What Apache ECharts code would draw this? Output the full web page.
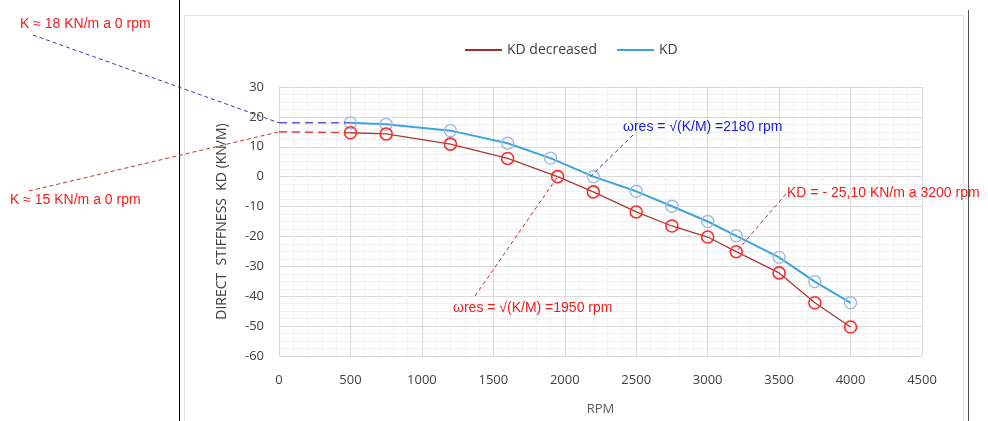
<!DOCTYPE html>
<html>
<head>
<meta charset="utf-8">
<script src="https://cdn.jsdelivr.net/npm/echarts@6/dist/echarts.min.js"></script>
<style>
  html, body { margin: 0; padding: 0; background: #fff; }
  #chart { width: 988px; height: 421px; }
</style>
</head>
<body>
<div id="chart"></div>
<script>
// values
var rpmKD = [500, 750, 1200, 1600, 1900, 2200, 2500, 2750, 3000, 3200, 3500, 3750, 4000];
var valKD = [18, 17.5, 15.4, 11.2, 6.2, 0, -4.9, -9.9, -15, -19.8, -27, -35.1, -42.2];
var rpmDec = [500, 750, 1200, 1600, 1950, 2200, 2500, 2750, 3000, 3200, 3500, 3750, 4000];
var valDec = [14.7, 14.3, 10.9, 6.1, 0, -5.1, -11.8, -16.5, -20.2, -25.1, -32.2, -42.2, -50.3];
var k0KD = 18, k0Dec = 15;
var xTicks = [0, 4500, 500];
var yTicks = [-60, 30, 10];

var font = 'Liberation Sans, Arial, sans-serif';
var xlFont = 'Open Sans, Liberation Sans, sans-serif';

function pairs(xs, ys) {
    return xs.map(function (x, i) { return [x, ys[i]]; });
}

var chart = echarts.init(document.getElementById('chart'));

var option = {
    animation: false,
    backgroundColor: '#fff',
    grid: { left: 279, right: 66, top: 87, bottom: 63 },
    legend: {
        top: 38,
        left: 460,
        icon: 'rect',
        itemWidth: 37,
        itemHeight: 2,
        itemGap: 20,
        textStyle: { fontFamily: xlFont, fontSize: 14, color: '#404040' },
        data: [
            { name: 'KD decreased', itemStyle: { color: '#a52a2a', borderColor: '#a52a2a', borderWidth: 0 } },
            { name: 'KD', itemStyle: { color: '#3fa3dc', borderColor: '#3fa3dc', borderWidth: 0 } }
        ]
    },
    xAxis: {
        type: 'value',
        min: xTicks[0], max: xTicks[1], interval: xTicks[2],
        name: 'RPM', nameLocation: 'middle', nameGap: 47,
        nameTextStyle: { fontFamily: xlFont, fontSize: 13, color: '#595959' },
        axisLine: { show: false },
        axisTick: { show: false },
        axisLabel: {
            margin: 18, fontFamily: xlFont, fontSize: 13, color: '#404040',
            formatter: function (v) { return String(v); }
        },
        splitLine: { lineStyle: { color: '#d9d9d9', width: 1 } },
        minorTick: { show: false, splitNumber: 5 },
        minorSplitLine: { show: true, lineStyle: { color: '#f0f0f0' } }
    },
    yAxis: {
        type: 'value',
        min: yTicks[0], max: yTicks[1], interval: yTicks[2],
        name: 'DIRECT  STIFFNESS  KD (KN/M)', nameLocation: 'middle', nameGap: 50,
        nameTextStyle: { fontFamily: xlFont, fontSize: 14, color: '#404040' },
        axisLine: { show: false },
        axisTick: { show: false },
        axisLabel: { margin: 15, fontFamily: xlFont, fontSize: 13, color: '#404040' },
        splitLine: { lineStyle: { color: '#d9d9d9', width: 1 } },
        minorTick: { show: false, splitNumber: 4 },
        minorSplitLine: { show: true, lineStyle: { color: '#f0f0f0' } }
    },
    series: [
        {
            name: 'KD decreased',
            type: 'line',
            data: pairs(rpmDec, valDec),
            symbol: 'circle',
            symbolSize: 12,
            itemStyle: { color: 'rgba(255,255,255,0)', borderColor: '#ff2a2a', borderWidth: 1.6 },
            lineStyle: { color: '#a83a3a', width: 1.3 },
            z: 3
        },
        {
            name: 'KD',
            type: 'line',
            data: pairs(rpmKD, valKD),
            symbol: 'circle',
            symbolSize: 12,
            itemStyle: { color: 'rgba(255,255,255,0)', borderColor: '#9bbbe0', borderWidth: 1.4 },
            lineStyle: { color: '#3fa3dc', width: 2 },
            z: 2
        },
        {
            name: 'ext KD',
            type: 'line',
            data: [[0, k0KD], [rpmKD[0], valKD[0]]],
            symbol: 'none',
            lineStyle: { color: '#5a5ad0', width: 1.5, type: [8, 5] }
        },
        {
            name: 'ext dec',
            type: 'line',
            data: [[0, k0Dec], [rpmDec[0], valDec[0]]],
            symbol: 'none',
            lineStyle: { color: '#e04040', width: 1.5, type: [8, 5] }
        }
    ]
};

chart.setOption(option);

// annotations: leaders end on data points converted through the chart's own scales
function px(x, y) { return chart.convertToPixel({ gridIndex: 0 }, [x, y]); }

function leader(from, to, color) {
    return {
        type: 'line',
        shape: { x1: from[0], y1: from[1], x2: to[0], y2: to[1] },
        style: { stroke: color, lineWidth: 1, lineDash: [4, 3] },
        z: 10
    };
}

function label(text, x, y, color) {
    return {
        type: 'text',
        x: x, y: y,
        style: { text: text, fill: color, font: '14px ' + font, textVerticalAlign: 'middle' },
        z: 10
    };
}

var red = '#ee1c1c', blue = '#1a1ae0';

chart.setOption({
    graphic: [
        // page frame lines
        { type: 'line', shape: { x1: 179.5, y1: 0, x2: 179.5, y2: 421 }, style: { stroke: '#000', lineWidth: 1 } },
        { type: 'line', shape: { x1: 968.5, y1: 10, x2: 968.5, y2: 421 }, style: { stroke: '#555', lineWidth: 1 } },
        { type: 'polyline', shape: { points: [[184.5, 421], [184.5, 15.5], [963.5, 15.5], [963.5, 421]] }, style: { stroke: '#e4e4e4', fill: null, lineWidth: 1 } },

        leader([33, 35], px(0, k0KD), '#3838b0'),
        label('K \u2248 18 KN/m a 0 rpm', 20, 24, red),
        leader([29, 191], px(0, k0Dec), '#c03030'),
        label('K \u2248 15 KN/m a 0 rpm', 10, 200, red),

        leader([633, 135], px(2180, 0), '#3838b0'),
        label('\u03c9res = \u221a(K/M) =2180 rpm', 623, 127, blue),

        leader([475, 296], px(rpmDec[4], valDec[4]), '#c03030'),
        label('\u03c9res = \u221a(K/M) =1950 rpm', 453, 308, red),

        leader([786, 194], px(rpmDec[9], valDec[9]), '#c03030'),
        label('KD = - 25,10 KN/m a 3200 rpm', 787, 193, red)
    ]
});
</script>
</body>
</html>
